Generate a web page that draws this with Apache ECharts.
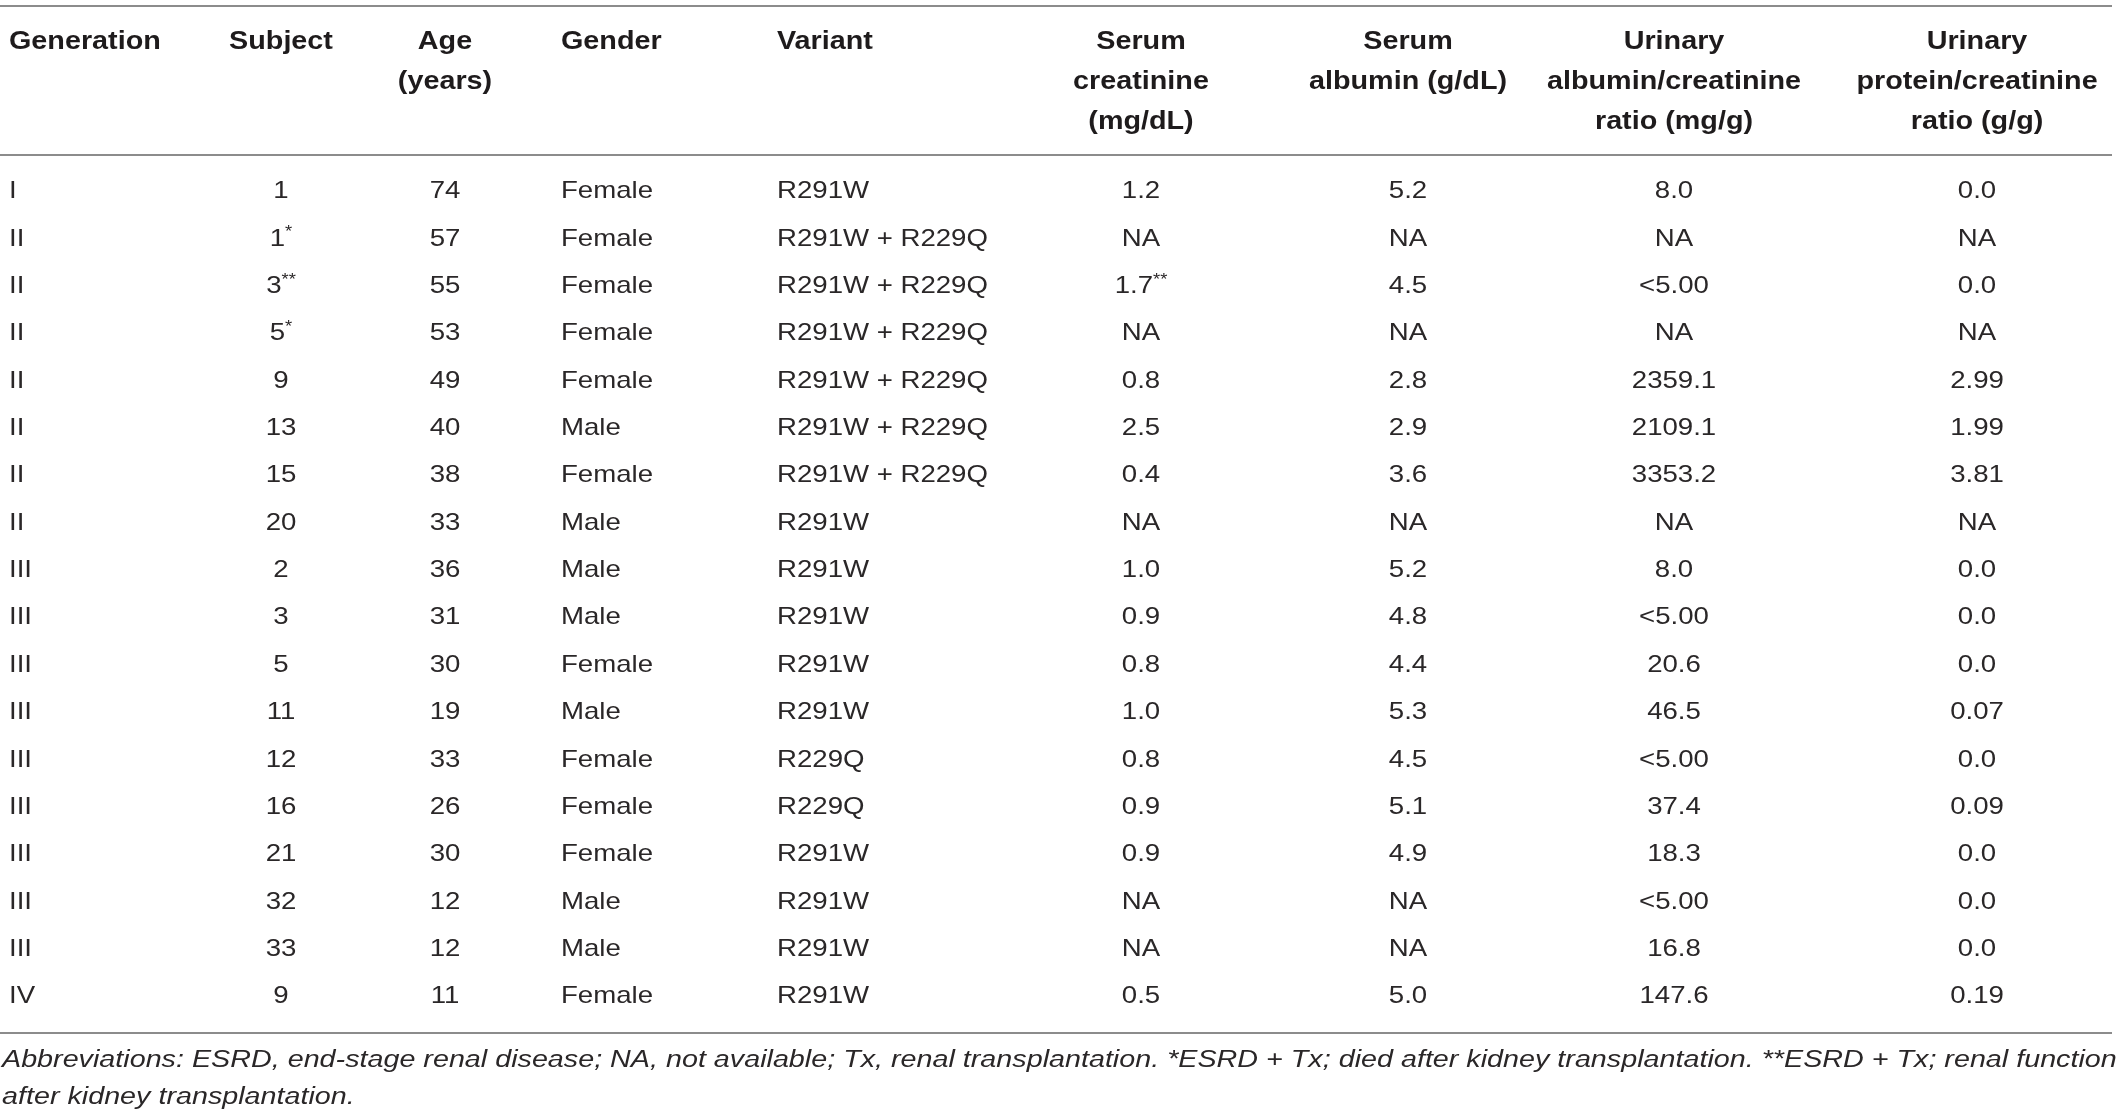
<!DOCTYPE html>
<html>
<head>
<meta charset="utf-8">
<script src="https://cdn.jsdelivr.net/npm/echarts@6/dist/echarts.min.js"></script>
<style>
  html,body{margin:0;padding:0;background:#fff;}
  #chart{width:2120px;height:1117px;}
</style>
</head>
<body>
<div id="chart"></div>
<script>
"use strict";

// table values, one array per column
var generation=['I','II','II','II','II','II','II','II','III','III','III','III','III','III','III','III','III','IV'];
var subject=['1','1*','3**','5*','9','13','15','20','2','3','5','11','12','16','21','32','33','9'];
var age=['74','57','55','53','49','40','38','33','36','31','30','19','33','26','30','12','12','11'];
var gender=['Female','Female','Female','Female','Female','Male','Female','Male','Male','Male','Female','Male','Female','Female','Female','Male','Male','Female'];
var variant=['R291W','R291W + R229Q','R291W + R229Q','R291W + R229Q','R291W + R229Q','R291W + R229Q','R291W + R229Q',
  'R291W','R291W','R291W','R291W','R291W','R229Q','R229Q','R291W','R291W','R291W','R291W'];
var serumCreatinine=['1.2','NA','1.7**','NA','0.8','2.5','0.4','NA','1.0','0.9','0.8','1.0','0.8','0.9','0.9','NA','NA','0.5'];
var serumAlbumin=['5.2','NA','4.5','NA','2.8','2.9','3.6','NA','5.2','4.8','4.4','5.3','4.5','5.1','4.9','NA','NA','5.0'];
var albuminRatio=['8.0','NA','<5.00','NA','2359.1','2109.1','3353.2','NA','8.0','<5.00','20.6','46.5','<5.00','37.4','18.3','<5.00','16.8','147.6'];
var proteinRatio=['0.0','NA','0.0','NA','2.99','1.99','3.81','NA','0.0','0.0','0.0','0.07','0.0','0.09','0.0','0.0','0.0','0.19'];

var headers=['Generation','Subject','Age\n(years)','Gender','Variant','Serum\ncreatinine\n(mg/dL)','Serum\nalbumin (g/dL)',
  'Urinary\nalbumin/creatinine\nratio (mg/g)','Urinary\nprotein/creatinine\nratio (g/g)'];
var footnote='Abbreviations: ESRD, end-stage renal disease; NA, not available; Tx, renal transplantation. *ESRD + Tx; died after kidney transplantation. **ESRD + Tx; renal function\nafter kidney transplantation.';

// layout of the columns (anchor x and alignment)
var columns=[
  {values:generation, x:9, align:'left'},
  {values:subject, x:281, align:'center'},
  {values:age, x:445, align:'center'},
  {values:gender, x:561, align:'left'},
  {values:variant, x:777, align:'left'},
  {values:serumCreatinine, x:1141, align:'center'},
  {values:serumAlbumin, x:1408, align:'center'},
  {values:albuminRatio, x:1674, align:'center'},
  {values:proteinRatio, x:1977, align:'center'}
];

var FONT='"Liberation Sans", Arial, sans-serif';
var TXT='#2a2728';
var HEAD='#1e1b1c';
var RULE='#8c8c8c';
var SX=1.15;          // the source type is set a little wide
var COLW=240;
var ROWTOP=168, ROWH=47.35;
var rowIdx=generation.map(function(d,i){return String(i);});

function cellText(v){
  var m=/^(.*?)(\*+)$/.exec(v);
  if (m) return m[1]+'{s|'+m[2]+'}';
  return v;
}

var grids=[],xAxes=[],yAxes=[],series=[],graphics=[];
columns.forEach(function(col,c){
  var left=(col.align=='left')?col.x:col.x-COLW/2;
  var xv=(col.align=='left')?0:0.5;
  grids.push({left:left,top:ROWTOP,width:COLW,height:ROWH*rowIdx.length});
  xAxes.push({gridIndex:c,type:'value',min:0,max:1,show:false});
  yAxes.push({gridIndex:c,type:'category',data:rowIdx,inverse:true,show:false});
  series.push({
    type:'custom',
    xAxisIndex:c,yAxisIndex:c,
    silent:true,
    data:col.values.map(function(v,i){return [xv,i];}),
    renderItem:function(params,api){
      var pt=api.coord([api.value(0),api.value(1)]);
      return {
        type:'text',x:pt[0],y:pt[1],scaleX:SX,
        style:{
          text:cellText(col.values[params.dataIndex]),
          x:0,y:0,align:col.align,verticalAlign:'middle',
          font:'24px '+FONT,fill:TXT,lineHeight:28,
          rich:{s:{font:'16px '+FONT,fill:TXT,verticalAlign:'top',lineHeight:28}}
        }
      };
    }
  });
  graphics.push({
    type:'text',x:col.x,y:22,scaleX:SX,silent:true,
    style:{text:headers[c],x:0,y:0,fill:HEAD,font:'bold 25px '+FONT,align:col.align,verticalAlign:'top',lineHeight:40}
  });
});

[6,155,1033].forEach(function(y){
  graphics.push({type:'line',silent:true,shape:{x1:0,y1:y,x2:2112,y2:y},style:{stroke:RULE,lineWidth:2}});
});
graphics.push({
  type:'text',x:2,y:1042,scaleX:1.172,silent:true,
  style:{text:footnote,x:0,y:0,fill:TXT,font:'italic 24.5px '+FONT,align:'left',verticalAlign:'top',lineHeight:37}
});

var chart=echarts.init(document.getElementById('chart'));
chart.setOption({
  backgroundColor:'#fff',
  animation:false,
  grid:grids,
  xAxis:xAxes,
  yAxis:yAxes,
  series:series,
  graphic:graphics
});
</script>
</body>
</html>
